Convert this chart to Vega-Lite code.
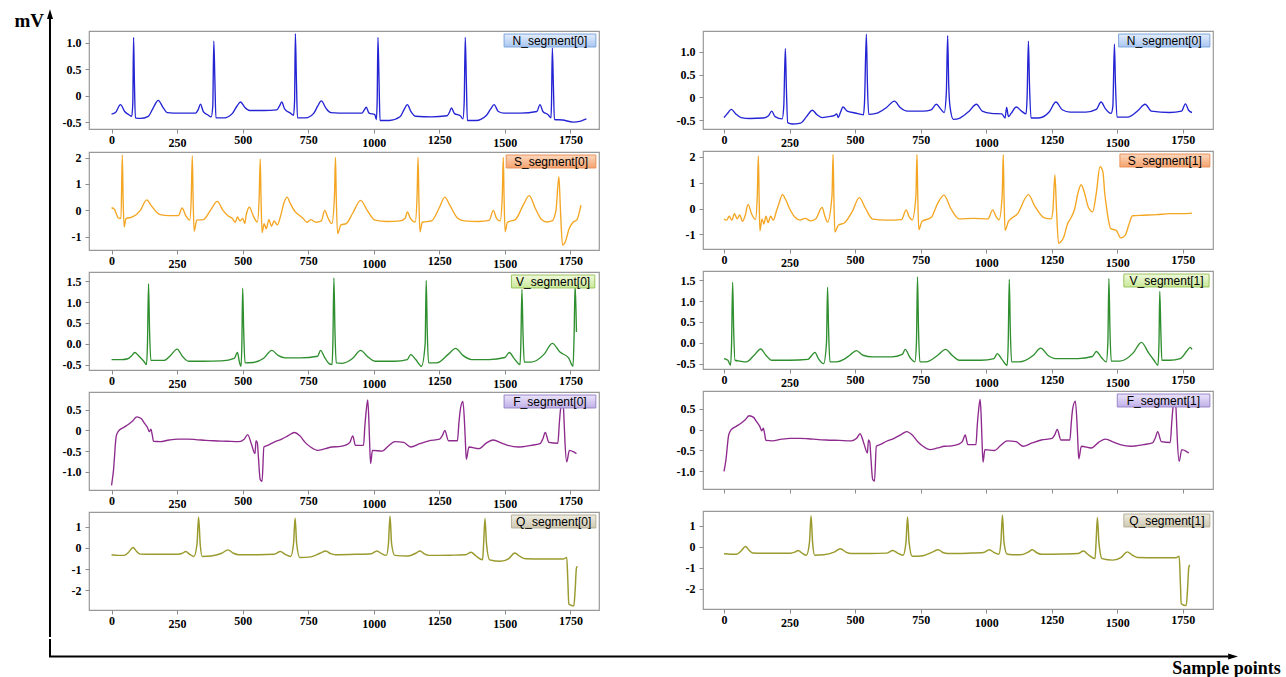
{
  "$schema": "https://vega.github.io/schema/vega-lite/v6.json",
  "padding": 0,
  "background": "white",
  "spacing": 0,
  "config": {
    "view": {"stroke": "#999999", "strokeWidth": 1.2},
    "axis": {"grid": false, "domain": false, "tickColor": "#8c8c8c", "tickSize": 4, "labelFont": "Liberation Serif", "labelFontWeight": "bold", "labelFontSize": 12, "labelColor": "#000"},
    "axisX": {"labelPadding": {"condition": {"test": "indexof([250, 1000, 1500], datum.value) >= 0", "value": 4}, "value": 1}, "minExtent": 20, "maxExtent": 20},
    "axisY": {"labelPadding": 4},
    "line": {"interpolate": "monotone", "strokeWidth": 1.35}
  },
  "datasets": {
    "N0": [{"t":0,"mv":-0.35},{"t":15,"mv":-0.32},{"t":34,"mv":-0.17},{"t":50,"mv":-0.3},{"t":66,"mv":-0.36},{"t":77,"mv":-0.39},{"t":81,"mv":-0.15},{"t":84,"mv":1.1},{"t":87,"mv":0.3},{"t":91,"mv":-0.42},{"t":110,"mv":-0.43},{"t":140,"mv":-0.39},{"t":160,"mv":-0.22},{"t":178,"mv":-0.09},{"t":196,"mv":-0.22},{"t":212,"mv":-0.32},{"t":260,"mv":-0.33},{"t":320,"mv":-0.33},{"t":330,"mv":-0.27},{"t":339,"mv":-0.16},{"t":350,"mv":-0.3},{"t":366,"mv":-0.36},{"t":380,"mv":-0.4},{"t":386,"mv":-0.2},{"t":390,"mv":1.03},{"t":394,"mv":0.3},{"t":398,"mv":-0.42},{"t":430,"mv":-0.42},{"t":460,"mv":-0.34},{"t":478,"mv":-0.2},{"t":492,"mv":-0.12},{"t":508,"mv":-0.22},{"t":526,"mv":-0.28},{"t":580,"mv":-0.28},{"t":630,"mv":-0.27},{"t":640,"mv":-0.2},{"t":649,"mv":-0.12},{"t":660,"mv":-0.25},{"t":682,"mv":-0.33},{"t":694,"mv":-0.37},{"t":698,"mv":-0.1},{"t":701,"mv":1.17},{"t":705,"mv":0.3},{"t":709,"mv":-0.42},{"t":740,"mv":-0.42},{"t":770,"mv":-0.34},{"t":786,"mv":-0.2},{"t":800,"mv":-0.1},{"t":818,"mv":-0.24},{"t":836,"mv":-0.32},{"t":900,"mv":-0.33},{"t":955,"mv":-0.33},{"t":964,"mv":-0.27},{"t":971,"mv":-0.22},{"t":982,"mv":-0.33},{"t":1004,"mv":-0.36},{"t":1010,"mv":-0.45},{"t":1013,"mv":-0.1},{"t":1016,"mv":1.1},{"t":1020,"mv":0.3},{"t":1024,"mv":-0.47},{"t":1060,"mv":-0.47},{"t":1100,"mv":-0.4},{"t":1116,"mv":-0.26},{"t":1128,"mv":-0.17},{"t":1142,"mv":-0.3},{"t":1160,"mv":-0.39},{"t":1220,"mv":-0.4},{"t":1280,"mv":-0.38},{"t":1290,"mv":-0.3},{"t":1296,"mv":-0.23},{"t":1308,"mv":-0.34},{"t":1330,"mv":-0.38},{"t":1340,"mv":-0.44},{"t":1345,"mv":-0.1},{"t":1349,"mv":1.1},{"t":1353,"mv":0.3},{"t":1357,"mv":-0.47},{"t":1390,"mv":-0.47},{"t":1430,"mv":-0.37},{"t":1446,"mv":-0.25},{"t":1459,"mv":-0.17},{"t":1475,"mv":-0.3},{"t":1497,"mv":-0.33},{"t":1560,"mv":-0.33},{"t":1622,"mv":-0.3},{"t":1634,"mv":-0.17},{"t":1645,"mv":-0.3},{"t":1665,"mv":-0.36},{"t":1676,"mv":-0.42},{"t":1678,"mv":-0.1},{"t":1681,"mv":0.9},{"t":1685,"mv":0.2},{"t":1689,"mv":-0.45},{"t":1720,"mv":-0.46},{"t":1760,"mv":-0.5},{"t":1790,"mv":-0.48},{"t":1811,"mv":-0.44}],
    "N1": [{"t":0,"mv":-0.44},{"t":12,"mv":-0.36},{"t":28,"mv":-0.26},{"t":45,"mv":-0.36},{"t":65,"mv":-0.44},{"t":100,"mv":-0.46},{"t":150,"mv":-0.45},{"t":170,"mv":-0.4},{"t":182,"mv":-0.3},{"t":195,"mv":-0.42},{"t":222,"mv":-0.47},{"t":228,"mv":-0.2},{"t":234,"mv":1.07},{"t":238,"mv":0.2},{"t":243,"mv":-0.55},{"t":260,"mv":-0.58},{"t":292,"mv":-0.56},{"t":315,"mv":-0.42},{"t":337,"mv":-0.28},{"t":355,"mv":-0.38},{"t":374,"mv":-0.44},{"t":400,"mv":-0.42},{"t":420,"mv":-0.4},{"t":430,"mv":-0.36},{"t":436,"mv":-0.44},{"t":444,"mv":-0.33},{"t":454,"mv":-0.21},{"t":470,"mv":-0.3},{"t":500,"mv":-0.34},{"t":532,"mv":-0.38},{"t":536,"mv":-0.1},{"t":543,"mv":1.38},{"t":547,"mv":0.3},{"t":552,"mv":-0.37},{"t":580,"mv":-0.35},{"t":620,"mv":-0.22},{"t":650,"mv":-0.08},{"t":672,"mv":-0.22},{"t":700,"mv":-0.3},{"t":760,"mv":-0.3},{"t":790,"mv":-0.27},{"t":810,"mv":-0.15},{"t":826,"mv":-0.25},{"t":840,"mv":-0.33},{"t":848,"mv":0.1},{"t":853,"mv":1.35},{"t":857,"mv":0.3},{"t":862,"mv":-0.2},{"t":875,"mv":-0.48},{"t":900,"mv":-0.45},{"t":935,"mv":-0.3},{"t":963,"mv":-0.15},{"t":985,"mv":-0.3},{"t":1020,"mv":-0.35},{"t":1060,"mv":-0.36},{"t":1072,"mv":-0.45},{"t":1078,"mv":-0.22},{"t":1085,"mv":-0.42},{"t":1095,"mv":-0.35},{"t":1115,"mv":-0.21},{"t":1135,"mv":-0.3},{"t":1152,"mv":-0.36},{"t":1156,"mv":0.0},{"t":1161,"mv":1.23},{"t":1165,"mv":0.3},{"t":1171,"mv":-0.45},{"t":1200,"mv":-0.45},{"t":1240,"mv":-0.32},{"t":1266,"mv":-0.1},{"t":1290,"mv":-0.27},{"t":1320,"mv":-0.32},{"t":1380,"mv":-0.32},{"t":1420,"mv":-0.26},{"t":1438,"mv":-0.1},{"t":1455,"mv":-0.25},{"t":1476,"mv":-0.35},{"t":1483,"mv":-0.2},{"t":1489,"mv":1.16},{"t":1493,"mv":0.3},{"t":1499,"mv":-0.43},{"t":1540,"mv":-0.43},{"t":1580,"mv":-0.28},{"t":1606,"mv":-0.15},{"t":1630,"mv":-0.3},{"t":1700,"mv":-0.33},{"t":1745,"mv":-0.3},{"t":1760,"mv":-0.14},{"t":1772,"mv":-0.28},{"t":1785,"mv":-0.33}],
    "S0": [{"t":0,"mv":0.1},{"t":10,"mv":0.05},{"t":27,"mv":-0.29},{"t":36,"mv":-0.3},{"t":41,"mv":2.09},{"t":44,"mv":0.5},{"t":48,"mv":-0.63},{"t":55,"mv":-0.31},{"t":80,"mv":-0.25},{"t":110,"mv":0.0},{"t":134,"mv":0.4},{"t":150,"mv":0.2},{"t":170,"mv":-0.05},{"t":185,"mv":-0.16},{"t":220,"mv":-0.2},{"t":255,"mv":-0.2},{"t":269,"mv":0.09},{"t":283,"mv":-0.2},{"t":298,"mv":-0.37},{"t":304,"mv":0.5},{"t":308,"mv":2.06},{"t":311,"mv":0.5},{"t":315,"mv":-0.79},{"t":325,"mv":-0.37},{"t":350,"mv":-0.35},{"t":380,"mv":0.05},{"t":403,"mv":0.34},{"t":425,"mv":0.0},{"t":444,"mv":-0.2},{"t":460,"mv":-0.3},{"t":472,"mv":-0.45},{"t":480,"mv":-0.25},{"t":490,"mv":-0.4},{"t":500,"mv":-0.3},{"t":508,"mv":-0.5},{"t":513,"mv":-0.2},{"t":526,"mv":0.12},{"t":540,"mv":-0.2},{"t":556,"mv":-0.44},{"t":563,"mv":0.5},{"t":567,"mv":1.94},{"t":570,"mv":0.5},{"t":574,"mv":-0.84},{"t":582,"mv":-0.5},{"t":590,"mv":-0.7},{"t":600,"mv":-0.35},{"t":610,"mv":-0.6},{"t":620,"mv":-0.4},{"t":632,"mv":-0.55},{"t":645,"mv":-0.2},{"t":658,"mv":0.3},{"t":670,"mv":0.5},{"t":680,"mv":0.3},{"t":700,"mv":-0.05},{"t":718,"mv":-0.2},{"t":731,"mv":-0.31},{"t":745,"mv":-0.45},{"t":760,"mv":-0.35},{"t":780,"mv":-0.45},{"t":800,"mv":-0.4},{"t":813,"mv":0.0},{"t":826,"mv":-0.3},{"t":840,"mv":-0.5},{"t":850,"mv":0.5},{"t":854,"mv":2.0},{"t":857,"mv":0.5},{"t":862,"mv":-0.88},{"t":875,"mv":-0.55},{"t":895,"mv":-0.5},{"t":920,"mv":-0.1},{"t":950,"mv":0.38},{"t":975,"mv":0.0},{"t":1005,"mv":-0.37},{"t":1050,"mv":-0.42},{"t":1100,"mv":-0.4},{"t":1120,"mv":-0.3},{"t":1128,"mv":-0.06},{"t":1140,"mv":-0.3},{"t":1158,"mv":-0.44},{"t":1165,"mv":0.5},{"t":1169,"mv":2.0},{"t":1172,"mv":0.5},{"t":1176,"mv":-0.81},{"t":1185,"mv":-0.45},{"t":1220,"mv":-0.4},{"t":1250,"mv":0.1},{"t":1271,"mv":0.5},{"t":1290,"mv":0.2},{"t":1320,"mv":-0.3},{"t":1346,"mv":-0.4},{"t":1400,"mv":-0.42},{"t":1440,"mv":-0.38},{"t":1456,"mv":0.0},{"t":1468,"mv":-0.3},{"t":1482,"mv":-0.4},{"t":1490,"mv":0.5},{"t":1494,"mv":2.0},{"t":1497,"mv":0.5},{"t":1501,"mv":-0.81},{"t":1510,"mv":-0.45},{"t":1540,"mv":-0.35},{"t":1570,"mv":0.2},{"t":1593,"mv":0.56},{"t":1615,"mv":0.1},{"t":1640,"mv":-0.35},{"t":1660,"mv":-0.44},{"t":1680,"mv":-0.4},{"t":1695,"mv":0.0},{"t":1706,"mv":1.28},{"t":1712,"mv":0.0},{"t":1720,"mv":-1.31},{"t":1730,"mv":-1.2},{"t":1745,"mv":-0.7},{"t":1760,"mv":-0.45},{"t":1775,"mv":-0.35},{"t":1790,"mv":0.2}],
    "S1": [{"t":0,"mv":-0.41},{"t":10,"mv":-0.45},{"t":20,"mv":-0.3},{"t":30,"mv":-0.45},{"t":40,"mv":-0.2},{"t":50,"mv":-0.4},{"t":60,"mv":-0.25},{"t":70,"mv":-0.5},{"t":80,"mv":-0.3},{"t":92,"mv":0.16},{"t":105,"mv":-0.2},{"t":120,"mv":-0.42},{"t":127,"mv":0.5},{"t":131,"mv":2.04},{"t":134,"mv":0.5},{"t":137,"mv":-0.87},{"t":145,"mv":-0.4},{"t":152,"mv":-0.6},{"t":160,"mv":-0.3},{"t":168,"mv":-0.55},{"t":178,"mv":-0.3},{"t":188,"mv":-0.45},{"t":200,"mv":-0.1},{"t":210,"mv":0.2},{"t":223,"mv":0.54},{"t":235,"mv":0.35},{"t":250,"mv":0.0},{"t":271,"mv":-0.34},{"t":290,"mv":-0.45},{"t":310,"mv":-0.38},{"t":330,"mv":-0.48},{"t":350,"mv":-0.4},{"t":374,"mv":0.04},{"t":385,"mv":-0.3},{"t":395,"mv":-0.53},{"t":412,"mv":0.5},{"t":416,"mv":2.09},{"t":419,"mv":0.5},{"t":423,"mv":-0.91},{"t":436,"mv":-0.65},{"t":460,"mv":-0.55},{"t":490,"mv":-0.1},{"t":516,"mv":0.42},{"t":540,"mv":0.0},{"t":567,"mv":-0.41},{"t":620,"mv":-0.45},{"t":677,"mv":-0.43},{"t":695,"mv":-0.05},{"t":705,"mv":-0.3},{"t":718,"mv":-0.44},{"t":732,"mv":0.5},{"t":736,"mv":2.09},{"t":739,"mv":0.5},{"t":743,"mv":-0.82},{"t":755,"mv":-0.5},{"t":790,"mv":-0.35},{"t":815,"mv":0.2},{"t":839,"mv":0.52},{"t":865,"mv":0.0},{"t":897,"mv":-0.4},{"t":950,"mv":-0.38},{"t":1007,"mv":-0.4},{"t":1025,"mv":-0.05},{"t":1037,"mv":-0.3},{"t":1049,"mv":-0.44},{"t":1061,"mv":0.5},{"t":1065,"mv":2.09},{"t":1068,"mv":0.5},{"t":1072,"mv":-0.85},{"t":1085,"mv":-0.5},{"t":1120,"mv":-0.2},{"t":1161,"mv":0.54},{"t":1185,"mv":0.1},{"t":1220,"mv":-0.35},{"t":1248,"mv":-0.4},{"t":1255,"mv":0.0},{"t":1262,"mv":1.3},{"t":1268,"mv":0.0},{"t":1276,"mv":-1.35},{"t":1284,"mv":-1.3},{"t":1296,"mv":-1.1},{"t":1310,"mv":-0.6},{"t":1324,"mv":-0.35},{"t":1337,"mv":-0.03},{"t":1350,"mv":0.6},{"t":1362,"mv":0.92},{"t":1375,"mv":0.6},{"t":1390,"mv":0.04},{"t":1406,"mv":-0.13},{"t":1420,"mv":0.6},{"t":1434,"mv":1.62},{"t":1445,"mv":1.43},{"t":1452,"mv":0.6},{"t":1459,"mv":0.04},{"t":1475,"mv":-0.78},{"t":1496,"mv":-0.85},{"t":1513,"mv":-1.14},{"t":1530,"mv":-1.04},{"t":1545,"mv":-0.6},{"t":1558,"mv":-0.28},{"t":1600,"mv":-0.26},{"t":1650,"mv":-0.24},{"t":1700,"mv":-0.2},{"t":1750,"mv":-0.2},{"t":1785,"mv":-0.18}],
    "V0": [{"t":0,"mv":-0.38},{"t":40,"mv":-0.38},{"t":62,"mv":-0.36},{"t":75,"mv":-0.3},{"t":89,"mv":-0.21},{"t":105,"mv":-0.3},{"t":123,"mv":-0.42},{"t":133,"mv":-0.5},{"t":137,"mv":0.0},{"t":141,"mv":1.44},{"t":145,"mv":0.3},{"t":150,"mv":-0.4},{"t":164,"mv":-0.4},{"t":200,"mv":-0.4},{"t":225,"mv":-0.28},{"t":250,"mv":-0.13},{"t":270,"mv":-0.3},{"t":294,"mv":-0.42},{"t":350,"mv":-0.42},{"t":420,"mv":-0.41},{"t":468,"mv":-0.35},{"t":480,"mv":-0.21},{"t":488,"mv":-0.45},{"t":494,"mv":-0.54},{"t":497,"mv":0.0},{"t":500,"mv":1.33},{"t":504,"mv":0.3},{"t":509,"mv":-0.46},{"t":540,"mv":-0.45},{"t":580,"mv":-0.35},{"t":611,"mv":-0.16},{"t":635,"mv":-0.28},{"t":663,"mv":-0.34},{"t":720,"mv":-0.34},{"t":786,"mv":-0.3},{"t":797,"mv":-0.16},{"t":812,"mv":-0.32},{"t":827,"mv":-0.46},{"t":841,"mv":-0.5},{"t":844,"mv":0.0},{"t":848,"mv":1.58},{"t":852,"mv":0.3},{"t":857,"mv":-0.46},{"t":880,"mv":-0.47},{"t":920,"mv":-0.35},{"t":950,"mv":-0.16},{"t":975,"mv":-0.3},{"t":1005,"mv":-0.42},{"t":1080,"mv":-0.42},{"t":1128,"mv":-0.38},{"t":1141,"mv":-0.26},{"t":1160,"mv":-0.38},{"t":1182,"mv":-0.54},{"t":1196,"mv":0.0},{"t":1200,"mv":1.52},{"t":1204,"mv":0.3},{"t":1209,"mv":-0.46},{"t":1240,"mv":-0.46},{"t":1285,"mv":-0.25},{"t":1312,"mv":-0.11},{"t":1340,"mv":-0.28},{"t":1374,"mv":-0.38},{"t":1440,"mv":-0.38},{"t":1500,"mv":-0.33},{"t":1517,"mv":-0.21},{"t":1535,"mv":-0.35},{"t":1558,"mv":-0.5},{"t":1561,"mv":0.0},{"t":1565,"mv":1.3},{"t":1569,"mv":0.3},{"t":1574,"mv":-0.44},{"t":1600,"mv":-0.44},{"t":1650,"mv":-0.25},{"t":1681,"mv":0.01},{"t":1710,"mv":-0.2},{"t":1743,"mv":-0.34},{"t":1760,"mv":-0.54},{"t":1764,"mv":0.2},{"t":1768,"mv":1.42},{"t":1773,"mv":0.28}],
    "V1": [{"t":0,"mv":-0.38},{"t":15,"mv":-0.42},{"t":25,"mv":-0.54},{"t":29,"mv":0.0},{"t":33,"mv":1.45},{"t":37,"mv":0.3},{"t":42,"mv":-0.42},{"t":60,"mv":-0.44},{"t":85,"mv":-0.46},{"t":115,"mv":-0.3},{"t":140,"mv":-0.15},{"t":160,"mv":-0.3},{"t":182,"mv":-0.42},{"t":250,"mv":-0.42},{"t":320,"mv":-0.4},{"t":335,"mv":-0.3},{"t":347,"mv":-0.23},{"t":360,"mv":-0.38},{"t":380,"mv":-0.5},{"t":391,"mv":0.0},{"t":395,"mv":1.33},{"t":399,"mv":0.3},{"t":404,"mv":-0.46},{"t":430,"mv":-0.46},{"t":457,"mv":-0.4},{"t":480,"mv":-0.3},{"t":505,"mv":-0.19},{"t":530,"mv":-0.3},{"t":567,"mv":-0.34},{"t":640,"mv":-0.34},{"t":680,"mv":-0.28},{"t":691,"mv":-0.16},{"t":710,"mv":-0.36},{"t":728,"mv":-0.46},{"t":734,"mv":0.0},{"t":738,"mv":1.58},{"t":742,"mv":0.3},{"t":747,"mv":-0.46},{"t":770,"mv":-0.46},{"t":815,"mv":-0.3},{"t":845,"mv":-0.16},{"t":870,"mv":-0.3},{"t":897,"mv":-0.42},{"t":980,"mv":-0.42},{"t":1030,"mv":-0.38},{"t":1042,"mv":-0.26},{"t":1060,"mv":-0.4},{"t":1080,"mv":-0.54},{"t":1084,"mv":0.0},{"t":1088,"mv":1.52},{"t":1092,"mv":0.3},{"t":1097,"mv":-0.46},{"t":1125,"mv":-0.46},{"t":1180,"mv":-0.3},{"t":1208,"mv":-0.13},{"t":1235,"mv":-0.3},{"t":1265,"mv":-0.38},{"t":1350,"mv":-0.38},{"t":1405,"mv":-0.33},{"t":1420,"mv":-0.21},{"t":1440,"mv":-0.36},{"t":1458,"mv":-0.46},{"t":1464,"mv":0.0},{"t":1468,"mv":1.54},{"t":1472,"mv":0.3},{"t":1477,"mv":-0.44},{"t":1510,"mv":-0.44},{"t":1560,"mv":-0.25},{"t":1592,"mv":0.01},{"t":1620,"mv":-0.25},{"t":1640,"mv":-0.42},{"t":1655,"mv":-0.54},{"t":1659,"mv":0.0},{"t":1662,"mv":1.23},{"t":1666,"mv":0.3},{"t":1670,"mv":-0.42},{"t":1700,"mv":-0.42},{"t":1740,"mv":-0.38},{"t":1765,"mv":-0.2},{"t":1778,"mv":-0.11},{"t":1785,"mv":-0.16}],
    "F0": [{"t":0,"mv":-1.33},{"t":7,"mv":-0.99},{"t":18,"mv":-0.13},{"t":27,"mv":-0.01},{"t":48,"mv":0.08},{"t":65,"mv":0.15},{"t":82,"mv":0.24},{"t":96,"mv":0.33},{"t":113,"mv":0.29},{"t":125,"mv":0.18},{"t":137,"mv":0.07},{"t":144,"mv":-0.03},{"t":150,"mv":0.03},{"t":155,"mv":-0.1},{"t":160,"mv":-0.26},{"t":185,"mv":-0.27},{"t":220,"mv":-0.23},{"t":253,"mv":-0.21},{"t":290,"mv":-0.21},{"t":321,"mv":-0.22},{"t":360,"mv":-0.24},{"t":390,"mv":-0.25},{"t":440,"mv":-0.26},{"t":485,"mv":-0.27},{"t":506,"mv":-0.21},{"t":519,"mv":-0.1},{"t":533,"mv":-0.32},{"t":547,"mv":-0.56},{"t":551,"mv":-0.25},{"t":556,"mv":-0.3},{"t":560,"mv":-0.64},{"t":567,"mv":-1.19},{"t":574,"mv":-1.23},{"t":581,"mv":-0.4},{"t":595,"mv":-0.36},{"t":620,"mv":-0.28},{"t":649,"mv":-0.21},{"t":675,"mv":-0.12},{"t":697,"mv":-0.05},{"t":718,"mv":-0.13},{"t":740,"mv":-0.3},{"t":759,"mv":-0.4},{"t":786,"mv":-0.48},{"t":815,"mv":-0.44},{"t":841,"mv":-0.4},{"t":868,"mv":-0.39},{"t":895,"mv":-0.35},{"t":909,"mv":-0.29},{"t":920,"mv":-0.13},{"t":930,"mv":-0.36},{"t":961,"mv":-0.36},{"t":966,"mv":0.1},{"t":971,"mv":0.46},{"t":977,"mv":0.74},{"t":981,"mv":0.3},{"t":984,"mv":-0.25},{"t":988,"mv":-0.8},{"t":995,"mv":-0.48},{"t":1032,"mv":-0.5},{"t":1055,"mv":-0.38},{"t":1080,"mv":-0.27},{"t":1114,"mv":-0.29},{"t":1141,"mv":-0.4},{"t":1175,"mv":-0.32},{"t":1210,"mv":-0.25},{"t":1251,"mv":-0.21},{"t":1262,"mv":-0.12},{"t":1271,"mv":0.0},{"t":1285,"mv":-0.25},{"t":1319,"mv":-0.25},{"t":1325,"mv":0.2},{"t":1330,"mv":0.5},{"t":1340,"mv":0.7},{"t":1346,"mv":0.2},{"t":1349,"mv":-0.21},{"t":1353,"mv":-0.7},{"t":1363,"mv":-0.4},{"t":1401,"mv":-0.44},{"t":1430,"mv":-0.3},{"t":1456,"mv":-0.23},{"t":1485,"mv":-0.3},{"t":1511,"mv":-0.36},{"t":1552,"mv":-0.4},{"t":1600,"mv":-0.36},{"t":1634,"mv":-0.32},{"t":1645,"mv":-0.2},{"t":1654,"mv":-0.05},{"t":1668,"mv":-0.29},{"t":1702,"mv":-0.31},{"t":1708,"mv":0.2},{"t":1713,"mv":0.54},{"t":1722,"mv":0.7},{"t":1726,"mv":0.2},{"t":1729,"mv":-0.25},{"t":1736,"mv":-0.76},{"t":1746,"mv":-0.48},{"t":1763,"mv":-0.52},{"t":1773,"mv":-0.56}],
    "F1": [{"t":0,"mv":-1.0},{"t":7,"mv":-0.75},{"t":18,"mv":-0.13},{"t":27,"mv":-0.01},{"t":48,"mv":0.08},{"t":65,"mv":0.15},{"t":82,"mv":0.24},{"t":96,"mv":0.33},{"t":113,"mv":0.29},{"t":125,"mv":0.18},{"t":137,"mv":0.07},{"t":144,"mv":-0.03},{"t":150,"mv":0.03},{"t":155,"mv":-0.1},{"t":160,"mv":-0.26},{"t":185,"mv":-0.27},{"t":220,"mv":-0.23},{"t":253,"mv":-0.21},{"t":290,"mv":-0.21},{"t":321,"mv":-0.22},{"t":360,"mv":-0.24},{"t":390,"mv":-0.25},{"t":440,"mv":-0.26},{"t":485,"mv":-0.27},{"t":506,"mv":-0.21},{"t":519,"mv":-0.1},{"t":533,"mv":-0.32},{"t":547,"mv":-0.56},{"t":551,"mv":-0.25},{"t":556,"mv":-0.3},{"t":560,"mv":-0.64},{"t":567,"mv":-1.19},{"t":574,"mv":-1.23},{"t":581,"mv":-0.4},{"t":595,"mv":-0.36},{"t":620,"mv":-0.28},{"t":649,"mv":-0.21},{"t":675,"mv":-0.12},{"t":697,"mv":-0.05},{"t":718,"mv":-0.13},{"t":740,"mv":-0.3},{"t":759,"mv":-0.4},{"t":786,"mv":-0.48},{"t":815,"mv":-0.44},{"t":841,"mv":-0.4},{"t":868,"mv":-0.39},{"t":895,"mv":-0.35},{"t":909,"mv":-0.29},{"t":920,"mv":-0.13},{"t":930,"mv":-0.36},{"t":961,"mv":-0.36},{"t":966,"mv":0.1},{"t":971,"mv":0.46},{"t":977,"mv":0.72},{"t":981,"mv":0.3},{"t":984,"mv":-0.25},{"t":988,"mv":-0.78},{"t":995,"mv":-0.48},{"t":1032,"mv":-0.5},{"t":1055,"mv":-0.38},{"t":1080,"mv":-0.27},{"t":1114,"mv":-0.29},{"t":1141,"mv":-0.4},{"t":1175,"mv":-0.32},{"t":1210,"mv":-0.25},{"t":1251,"mv":-0.21},{"t":1262,"mv":-0.12},{"t":1271,"mv":0.0},{"t":1285,"mv":-0.25},{"t":1319,"mv":-0.25},{"t":1325,"mv":0.2},{"t":1330,"mv":0.5},{"t":1340,"mv":0.68},{"t":1346,"mv":0.2},{"t":1349,"mv":-0.21},{"t":1353,"mv":-0.7},{"t":1363,"mv":-0.4},{"t":1401,"mv":-0.44},{"t":1430,"mv":-0.3},{"t":1456,"mv":-0.23},{"t":1485,"mv":-0.3},{"t":1511,"mv":-0.36},{"t":1552,"mv":-0.4},{"t":1600,"mv":-0.36},{"t":1634,"mv":-0.32},{"t":1645,"mv":-0.2},{"t":1654,"mv":-0.05},{"t":1668,"mv":-0.29},{"t":1702,"mv":-0.31},{"t":1708,"mv":0.2},{"t":1713,"mv":0.54},{"t":1722,"mv":0.68},{"t":1726,"mv":0.2},{"t":1729,"mv":-0.25},{"t":1736,"mv":-0.76},{"t":1746,"mv":-0.48},{"t":1763,"mv":-0.52},{"t":1773,"mv":-0.56}],
    "Q0": [{"t":0,"mv":-0.32},{"t":25,"mv":-0.35},{"t":48,"mv":-0.35},{"t":65,"mv":-0.2},{"t":82,"mv":0.02},{"t":95,"mv":-0.15},{"t":109,"mv":-0.29},{"t":150,"mv":-0.3},{"t":200,"mv":-0.3},{"t":253,"mv":-0.3},{"t":270,"mv":-0.25},{"t":283,"mv":-0.17},{"t":298,"mv":-0.3},{"t":314,"mv":-0.4},{"t":326,"mv":0.2},{"t":332,"mv":1.47},{"t":338,"mv":0.2},{"t":346,"mv":-0.4},{"t":380,"mv":-0.38},{"t":420,"mv":-0.25},{"t":444,"mv":-0.09},{"t":465,"mv":-0.25},{"t":485,"mv":-0.32},{"t":560,"mv":-0.32},{"t":620,"mv":-0.3},{"t":644,"mv":-0.17},{"t":662,"mv":-0.3},{"t":683,"mv":-0.4},{"t":694,"mv":0.2},{"t":700,"mv":1.42},{"t":706,"mv":0.2},{"t":718,"mv":-0.45},{"t":760,"mv":-0.42},{"t":795,"mv":-0.25},{"t":817,"mv":-0.14},{"t":835,"mv":-0.27},{"t":854,"mv":-0.32},{"t":930,"mv":-0.3},{"t":990,"mv":-0.27},{"t":1012,"mv":-0.14},{"t":1030,"mv":-0.27},{"t":1048,"mv":-0.35},{"t":1056,"mv":0.2},{"t":1062,"mv":1.51},{"t":1068,"mv":0.2},{"t":1080,"mv":-0.35},{"t":1130,"mv":-0.38},{"t":1160,"mv":-0.25},{"t":1176,"mv":-0.14},{"t":1193,"mv":-0.28},{"t":1210,"mv":-0.35},{"t":1290,"mv":-0.34},{"t":1350,"mv":-0.32},{"t":1371,"mv":-0.2},{"t":1390,"mv":-0.38},{"t":1415,"mv":-0.56},{"t":1419,"mv":0.2},{"t":1424,"mv":1.39},{"t":1430,"mv":0.2},{"t":1442,"mv":-0.56},{"t":1483,"mv":-0.63},{"t":1515,"mv":-0.5},{"t":1538,"mv":-0.24},{"t":1558,"mv":-0.4},{"t":1579,"mv":-0.51},{"t":1650,"mv":-0.52},{"t":1722,"mv":-0.52},{"t":1736,"mv":-0.45},{"t":1740,"mv":-1.5},{"t":1744,"mv":-2.65},{"t":1755,"mv":-2.72},{"t":1763,"mv":-2.73},{"t":1768,"mv":-2.0},{"t":1773,"mv":-0.94},{"t":1777,"mv":-0.87}],
    "Q1": [{"t":0,"mv":-0.33},{"t":25,"mv":-0.35},{"t":48,"mv":-0.35},{"t":65,"mv":-0.2},{"t":82,"mv":0.02},{"t":95,"mv":-0.15},{"t":109,"mv":-0.29},{"t":150,"mv":-0.3},{"t":200,"mv":-0.3},{"t":253,"mv":-0.3},{"t":270,"mv":-0.25},{"t":283,"mv":-0.17},{"t":298,"mv":-0.3},{"t":314,"mv":-0.4},{"t":326,"mv":0.2},{"t":332,"mv":1.47},{"t":338,"mv":0.2},{"t":346,"mv":-0.4},{"t":380,"mv":-0.38},{"t":420,"mv":-0.25},{"t":444,"mv":-0.09},{"t":465,"mv":-0.25},{"t":485,"mv":-0.32},{"t":560,"mv":-0.32},{"t":620,"mv":-0.3},{"t":644,"mv":-0.17},{"t":662,"mv":-0.3},{"t":683,"mv":-0.4},{"t":694,"mv":0.2},{"t":700,"mv":1.42},{"t":706,"mv":0.2},{"t":718,"mv":-0.45},{"t":760,"mv":-0.42},{"t":795,"mv":-0.25},{"t":817,"mv":-0.14},{"t":835,"mv":-0.27},{"t":854,"mv":-0.32},{"t":930,"mv":-0.3},{"t":990,"mv":-0.27},{"t":1012,"mv":-0.14},{"t":1030,"mv":-0.27},{"t":1048,"mv":-0.35},{"t":1056,"mv":0.2},{"t":1062,"mv":1.51},{"t":1068,"mv":0.2},{"t":1080,"mv":-0.35},{"t":1130,"mv":-0.38},{"t":1160,"mv":-0.25},{"t":1176,"mv":-0.14},{"t":1193,"mv":-0.28},{"t":1210,"mv":-0.35},{"t":1290,"mv":-0.34},{"t":1350,"mv":-0.32},{"t":1371,"mv":-0.2},{"t":1390,"mv":-0.38},{"t":1415,"mv":-0.56},{"t":1419,"mv":0.2},{"t":1424,"mv":1.39},{"t":1430,"mv":0.2},{"t":1442,"mv":-0.56},{"t":1483,"mv":-0.63},{"t":1515,"mv":-0.5},{"t":1538,"mv":-0.24},{"t":1558,"mv":-0.4},{"t":1579,"mv":-0.51},{"t":1650,"mv":-0.52},{"t":1722,"mv":-0.52},{"t":1736,"mv":-0.45},{"t":1740,"mv":-1.5},{"t":1744,"mv":-2.7},{"t":1755,"mv":-2.77},{"t":1763,"mv":-2.78},{"t":1768,"mv":-2.0},{"t":1773,"mv":-0.94},{"t":1777,"mv":-0.87}]
  },
  "vconcat": [
    {
      "spacing": 0,
      "hconcat": [
        {
          "width": 55, "height": 637, "view": {"stroke": null},
          "data": {"values": [{}]},
          "layer": [
            {"mark": {"type": "rule", "color": "#000", "strokeWidth": 2},
             "encoding": {"x": {"datum": 0.909, "type": "quantitative", "scale": {"domain": [0, 1], "nice": false}, "axis": null},
                          "y": {"datum": 0, "type": "quantitative", "scale": {"domain": [0, 1], "nice": false}, "axis": null},
                          "y2": {"datum": 0.975}}},
            {"mark": {"type": "point", "shape": "M0,-1L0.55,0.8L-0.55,0.8Z", "filled": true, "color": "#000", "opacity": 1, "size": 120},
             "encoding": {"x": {"datum": 0.909, "type": "quantitative"}, "y": {"datum": 0.977, "type": "quantitative"}}},
            {"mark": {"type": "text", "text": "mV", "font": "Liberation Serif", "fontWeight": "bold", "fontSize": 19, "align": "right", "baseline": "middle", "color": "#000"},
             "encoding": {"x": {"datum": 0.8, "type": "quantitative"}, "y": {"datum": 0.967, "type": "quantitative"}}}
          ]
        },
        {
          "spacing": 0,
          "vconcat": [
            {"width": 510, "height": 30, "view": {"stroke": null}, "data": {"values": []}, "mark": "point"},
            {"width": 510, "height": 98, "resolve": {"scale": {"y": "independent"}}, "layer": [
              {"data": {"name": "N0"}, "mark": {"type": "line", "color": "#2424d4"},
               "encoding": {"x": {"field": "t", "type": "quantitative", "scale": {"domain": [-86, 1859], "nice": false, "zero": false}, "axis": {"title": null, "values": [0,250,500,750,1000,1250,1500,1750], "format": "d"}},
                            "y": {"field": "mv", "type": "quantitative", "scale": {"domain": [-0.63, 1.22], "nice": false, "zero": false}, "axis": {"title": null, "values": [-0.5,0,0.5,1], "minExtent": 33, "maxExtent": 33, "labelExpr": "datum.value == 0 ? '0' : (datum.value < 0 ? '-' : '') + format(abs(datum.value), '.1f')"}}}},
              {"data": {"values": [{}]}, "mark": {"type": "rect", "stroke": "#7ea6dc", "strokeWidth": 1, "fill": {"gradient": "linear", "x1": 0, "y1": 0, "x2": 0, "y2": 1, "stops": [{"offset": 0, "color": "#e3edfc"}, {"offset": 1, "color": "#a9c6f1"}]}},
               "encoding": {"x": {"datum": 1497, "type": "quantitative"}, "x2": {"datum": 1847}, "y": {"datum": 0.969, "type": "quantitative", "scale": {"domain": [0, 1], "nice": false}, "axis": null}, "y2": {"datum": 0.837}}},
              {"data": {"values": [{}]}, "mark": {"type": "text", "text": "N_segment[0]", "font": "Liberation Sans", "fontSize": 12, "color": "#000", "baseline": "middle"},
               "encoding": {"x": {"datum": 1672, "type": "quantitative"}, "y": {"datum": 0.903, "type": "quantitative", "scale": {"domain": [0, 1], "nice": false}, "axis": null}}}
            ]},
            {"width": 510, "height": 98, "resolve": {"scale": {"y": "independent"}}, "layer": [
              {"data": {"name": "S0"}, "mark": {"type": "line", "color": "#f4a623"},
               "encoding": {"x": {"field": "t", "type": "quantitative", "scale": {"domain": [-86, 1859], "nice": false, "zero": false}, "axis": {"title": null, "values": [0,250,500,750,1000,1250,1500,1750], "format": "d"}},
                            "y": {"field": "mv", "type": "quantitative", "scale": {"domain": [-1.5, 2.21], "nice": false, "zero": false}, "axis": {"title": null, "values": [-1,0,1,2], "minExtent": 33, "maxExtent": 33, "labelExpr": "(datum.value < 0 ? '-' : '') + format(abs(datum.value), 'd')"}}}},
              {"data": {"values": [{}]}, "mark": {"type": "rect", "stroke": "#e8915a", "strokeWidth": 1, "fill": {"gradient": "linear", "x1": 0, "y1": 0, "x2": 0, "y2": 1, "stops": [{"offset": 0, "color": "#fcd8bd"}, {"offset": 1, "color": "#f6a26e"}]}},
               "encoding": {"x": {"datum": 1505, "type": "quantitative"}, "x2": {"datum": 1847}, "y": {"datum": 0.969, "type": "quantitative", "scale": {"domain": [0, 1], "nice": false}, "axis": null}, "y2": {"datum": 0.837}}},
              {"data": {"values": [{}]}, "mark": {"type": "text", "text": "S_segment[0]", "font": "Liberation Sans", "fontSize": 12, "color": "#000", "baseline": "middle"},
               "encoding": {"x": {"datum": 1676, "type": "quantitative"}, "y": {"datum": 0.903, "type": "quantitative", "scale": {"domain": [0, 1], "nice": false}, "axis": null}}}
            ]},
            {"width": 510, "height": 98, "resolve": {"scale": {"y": "independent"}}, "layer": [
              {"data": {"name": "V0"}, "mark": {"type": "line", "color": "#2f8f2f"},
               "encoding": {"x": {"field": "t", "type": "quantitative", "scale": {"domain": [-86, 1859], "nice": false, "zero": false}, "axis": {"title": null, "values": [0,250,500,750,1000,1250,1500,1750], "format": "d"}},
                            "y": {"field": "mv", "type": "quantitative", "scale": {"domain": [-0.63, 1.72], "nice": false, "zero": false}, "axis": {"title": null, "values": [-0.5,0,0.5,1,1.5], "minExtent": 33, "maxExtent": 33, "labelExpr": "(datum.value < 0 ? '-' : '') + format(abs(datum.value), '.1f')"}}}},
              {"data": {"values": [{}]}, "mark": {"type": "rect", "stroke": "#9cc45e", "strokeWidth": 1, "fill": {"gradient": "linear", "x1": 0, "y1": 0, "x2": 0, "y2": 1, "stops": [{"offset": 0, "color": "#f0fadc"}, {"offset": 1, "color": "#c8e898"}]}},
               "encoding": {"x": {"datum": 1525, "type": "quantitative"}, "x2": {"datum": 1843}, "y": {"datum": 0.969, "type": "quantitative", "scale": {"domain": [0, 1], "nice": false}, "axis": null}, "y2": {"datum": 0.837}}},
              {"data": {"values": [{}]}, "mark": {"type": "text", "text": "V_segment[0]", "font": "Liberation Sans", "fontSize": 12, "color": "#000", "baseline": "middle"},
               "encoding": {"x": {"datum": 1684, "type": "quantitative"}, "y": {"datum": 0.903, "type": "quantitative", "scale": {"domain": [0, 1], "nice": false}, "axis": null}}}
            ]},
            {"width": 510, "height": 98, "resolve": {"scale": {"y": "independent"}}, "layer": [
              {"data": {"name": "F0"}, "mark": {"type": "line", "color": "#8e2a8e"},
               "encoding": {"x": {"field": "t", "type": "quantitative", "scale": {"domain": [-86, 1859], "nice": false, "zero": false}, "axis": {"title": null, "values": [0,250,500,750,1000,1250,1500,1750], "format": "d"}},
                            "y": {"field": "mv", "type": "quantitative", "scale": {"domain": [-1.44, 0.93], "nice": false, "zero": false}, "axis": {"title": null, "values": [-1,-0.5,0,0.5], "minExtent": 33, "maxExtent": 33, "labelExpr": "datum.value == 0 ? '0' : (datum.value < 0 ? '-' : '') + format(abs(datum.value), '.1f')"}}}},
              {"data": {"values": [{}]}, "mark": {"type": "rect", "stroke": "#9a86c8", "strokeWidth": 1, "fill": {"gradient": "linear", "x1": 0, "y1": 0, "x2": 0, "y2": 1, "stops": [{"offset": 0, "color": "#ebe4fa"}, {"offset": 1, "color": "#c0b0e8"}]}},
               "encoding": {"x": {"datum": 1497, "type": "quantitative"}, "x2": {"datum": 1847}, "y": {"datum": 0.969, "type": "quantitative", "scale": {"domain": [0, 1], "nice": false}, "axis": null}, "y2": {"datum": 0.837}}},
              {"data": {"values": [{}]}, "mark": {"type": "text", "text": "F_segment[0]", "font": "Liberation Sans", "fontSize": 12, "color": "#000", "baseline": "middle"},
               "encoding": {"x": {"datum": 1672, "type": "quantitative"}, "y": {"datum": 0.903, "type": "quantitative", "scale": {"domain": [0, 1], "nice": false}, "axis": null}}}
            ]},
            {"width": 510, "height": 98, "resolve": {"scale": {"y": "independent"}}, "layer": [
              {"data": {"name": "Q0"}, "mark": {"type": "line", "color": "#9a9a2e", "strokeWidth": 1.45},
               "encoding": {"x": {"field": "t", "type": "quantitative", "scale": {"domain": [-86, 1859], "nice": false, "zero": false}, "axis": {"title": null, "values": [0,250,500,750,1000,1250,1500,1750], "format": "d"}},
                            "y": {"field": "mv", "type": "quantitative", "scale": {"domain": [-2.93, 1.7], "nice": false, "zero": false}, "axis": {"title": null, "values": [-2,-1,0,1], "minExtent": 33, "maxExtent": 33, "labelExpr": "(datum.value < 0 ? '-' : '') + format(abs(datum.value), 'd')"}}}},
              {"data": {"values": [{}]}, "mark": {"type": "rect", "stroke": "#b8b098", "strokeWidth": 1, "fill": {"gradient": "linear", "x1": 0, "y1": 0, "x2": 0, "y2": 1, "stops": [{"offset": 0, "color": "#eeece2"}, {"offset": 1, "color": "#cfc9b2"}]}},
               "encoding": {"x": {"datum": 1525, "type": "quantitative"}, "x2": {"datum": 1847}, "y": {"datum": 0.969, "type": "quantitative", "scale": {"domain": [0, 1], "nice": false}, "axis": null}, "y2": {"datum": 0.837}}},
              {"data": {"values": [{}]}, "mark": {"type": "text", "text": "Q_segment[0]", "font": "Liberation Sans", "fontSize": 12, "color": "#000", "baseline": "middle"},
               "encoding": {"x": {"datum": 1686, "type": "quantitative"}, "y": {"datum": 0.903, "type": "quantitative", "scale": {"domain": [0, 1], "nice": false}, "axis": null}}}
            ]}
          ]
        },
        {
          "spacing": 0,
          "vconcat": [
            {"width": 510, "height": 30, "view": {"stroke": null}, "data": {"values": []}, "mark": "point"},
            {"width": 510, "height": 98, "resolve": {"scale": {"y": "independent"}}, "layer": [
              {"data": {"name": "N1"}, "mark": {"type": "line", "color": "#2424d4"},
               "encoding": {"x": {"field": "t", "type": "quantitative", "scale": {"domain": [-80, 1865], "nice": false, "zero": false}, "axis": {"title": null, "values": [0,250,500,750,1000,1250,1500,1750], "format": "d"}},
                            "y": {"field": "mv", "type": "quantitative", "scale": {"domain": [-0.69, 1.45], "nice": false, "zero": false}, "axis": {"title": null, "values": [-0.5,0,0.5,1], "minExtent": 102, "maxExtent": 102, "labelExpr": "datum.value == 0 ? '0' : (datum.value < 0 ? '-' : '') + format(abs(datum.value), '.1f')"}}}},
              {"data": {"values": [{}]}, "mark": {"type": "rect", "stroke": "#7ea6dc", "strokeWidth": 1, "fill": {"gradient": "linear", "x1": 0, "y1": 0, "x2": 0, "y2": 1, "stops": [{"offset": 0, "color": "#e3edfc"}, {"offset": 1, "color": "#a9c6f1"}]}},
               "encoding": {"x": {"datum": 1505, "type": "quantitative"}, "x2": {"datum": 1853}, "y": {"datum": 0.969, "type": "quantitative", "scale": {"domain": [0, 1], "nice": false}, "axis": null}, "y2": {"datum": 0.837}}},
              {"data": {"values": [{}]}, "mark": {"type": "text", "text": "N_segment[0]", "font": "Liberation Sans", "fontSize": 12, "color": "#000", "baseline": "middle"},
               "encoding": {"x": {"datum": 1679, "type": "quantitative"}, "y": {"datum": 0.903, "type": "quantitative", "scale": {"domain": [0, 1], "nice": false}, "axis": null}}}
            ]},
            {"width": 510, "height": 98, "resolve": {"scale": {"y": "independent"}}, "layer": [
              {"data": {"name": "S1"}, "mark": {"type": "line", "color": "#f4a623"},
               "encoding": {"x": {"field": "t", "type": "quantitative", "scale": {"domain": [-80, 1865], "nice": false, "zero": false}, "axis": {"title": null, "values": [0,250,500,750,1000,1250,1500,1750], "format": "d"}},
                            "y": {"field": "mv", "type": "quantitative", "scale": {"domain": [-1.57, 2.23], "nice": false, "zero": false}, "axis": {"title": null, "values": [-1,0,1,2], "minExtent": 102, "maxExtent": 102, "labelExpr": "(datum.value < 0 ? '-' : '') + format(abs(datum.value), 'd')"}}}},
              {"data": {"values": [{}]}, "mark": {"type": "rect", "stroke": "#e8915a", "strokeWidth": 1, "fill": {"gradient": "linear", "x1": 0, "y1": 0, "x2": 0, "y2": 1, "stops": [{"offset": 0, "color": "#fcd8bd"}, {"offset": 1, "color": "#f6a26e"}]}},
               "encoding": {"x": {"datum": 1510, "type": "quantitative"}, "x2": {"datum": 1853}, "y": {"datum": 0.969, "type": "quantitative", "scale": {"domain": [0, 1], "nice": false}, "axis": null}, "y2": {"datum": 0.837}}},
              {"data": {"values": [{}]}, "mark": {"type": "text", "text": "S_segment[1]", "font": "Liberation Sans", "fontSize": 12, "color": "#000", "baseline": "middle"},
               "encoding": {"x": {"datum": 1681, "type": "quantitative"}, "y": {"datum": 0.903, "type": "quantitative", "scale": {"domain": [0, 1], "nice": false}, "axis": null}}}
            ]},
            {"width": 510, "height": 98, "resolve": {"scale": {"y": "independent"}}, "layer": [
              {"data": {"name": "V1"}, "mark": {"type": "line", "color": "#2f8f2f"},
               "encoding": {"x": {"field": "t", "type": "quantitative", "scale": {"domain": [-80, 1865], "nice": false, "zero": false}, "axis": {"title": null, "values": [0,250,500,750,1000,1250,1500,1750], "format": "d"}},
                            "y": {"field": "mv", "type": "quantitative", "scale": {"domain": [-0.63, 1.72], "nice": false, "zero": false}, "axis": {"title": null, "values": [-0.5,0,0.5,1,1.5], "minExtent": 102, "maxExtent": 102, "labelExpr": "(datum.value < 0 ? '-' : '') + format(abs(datum.value), '.1f')"}}}},
              {"data": {"values": [{}]}, "mark": {"type": "rect", "stroke": "#9cc45e", "strokeWidth": 1, "fill": {"gradient": "linear", "x1": 0, "y1": 0, "x2": 0, "y2": 1, "stops": [{"offset": 0, "color": "#f0fadc"}, {"offset": 1, "color": "#c8e898"}]}},
               "encoding": {"x": {"datum": 1525, "type": "quantitative"}, "x2": {"datum": 1850}, "y": {"datum": 0.969, "type": "quantitative", "scale": {"domain": [0, 1], "nice": false}, "axis": null}, "y2": {"datum": 0.837}}},
              {"data": {"values": [{}]}, "mark": {"type": "text", "text": "V_segment[1]", "font": "Liberation Sans", "fontSize": 12, "color": "#000", "baseline": "middle"},
               "encoding": {"x": {"datum": 1688, "type": "quantitative"}, "y": {"datum": 0.903, "type": "quantitative", "scale": {"domain": [0, 1], "nice": false}, "axis": null}}}
            ]},
            {"width": 510, "height": 98, "resolve": {"scale": {"y": "independent"}}, "layer": [
              {"data": {"name": "F1"}, "mark": {"type": "line", "color": "#8e2a8e"},
               "encoding": {"x": {"field": "t", "type": "quantitative", "scale": {"domain": [-80, 1865], "nice": false, "zero": false}, "axis": {"title": null, "values": [0,250,500,750,1000,1250,1500,1750], "labels": false}},
                            "y": {"field": "mv", "type": "quantitative", "scale": {"domain": [-1.42, 0.92], "nice": false, "zero": false}, "axis": {"title": null, "values": [-1,-0.5,0,0.5], "minExtent": 102, "maxExtent": 102, "labelExpr": "datum.value == 0 ? '0' : (datum.value < 0 ? '-' : '') + format(abs(datum.value), '.1f')"}}}},
              {"data": {"values": [{}]}, "mark": {"type": "rect", "stroke": "#9a86c8", "strokeWidth": 1, "fill": {"gradient": "linear", "x1": 0, "y1": 0, "x2": 0, "y2": 1, "stops": [{"offset": 0, "color": "#ebe4fa"}, {"offset": 1, "color": "#c0b0e8"}]}},
               "encoding": {"x": {"datum": 1500, "type": "quantitative"}, "x2": {"datum": 1853}, "y": {"datum": 0.969, "type": "quantitative", "scale": {"domain": [0, 1], "nice": false}, "axis": null}, "y2": {"datum": 0.837}}},
              {"data": {"values": [{}]}, "mark": {"type": "text", "text": "F_segment[1]", "font": "Liberation Sans", "fontSize": 12, "color": "#000", "baseline": "middle"},
               "encoding": {"x": {"datum": 1676, "type": "quantitative"}, "y": {"datum": 0.903, "type": "quantitative", "scale": {"domain": [0, 1], "nice": false}, "axis": null}}}
            ]},
            {"width": 510, "height": 98, "resolve": {"scale": {"y": "independent"}}, "layer": [
              {"data": {"name": "Q1"}, "mark": {"type": "line", "color": "#9a9a2e", "strokeWidth": 1.45},
               "encoding": {"x": {"field": "t", "type": "quantitative", "scale": {"domain": [-80, 1865], "nice": false, "zero": false}, "axis": {"title": null, "values": [0,250,500,750,1000,1250,1500,1750], "format": "d"}},
                            "y": {"field": "mv", "type": "quantitative", "scale": {"domain": [-2.95, 1.7], "nice": false, "zero": false}, "axis": {"title": null, "values": [-2,-1,0,1], "minExtent": 102, "maxExtent": 102, "labelExpr": "(datum.value < 0 ? '-' : '') + format(abs(datum.value), 'd')"}}}},
              {"data": {"values": [{}]}, "mark": {"type": "rect", "stroke": "#b8b098", "strokeWidth": 1, "fill": {"gradient": "linear", "x1": 0, "y1": 0, "x2": 0, "y2": 1, "stops": [{"offset": 0, "color": "#eeece2"}, {"offset": 1, "color": "#cfc9b2"}]}},
               "encoding": {"x": {"datum": 1525, "type": "quantitative"}, "x2": {"datum": 1853}, "y": {"datum": 0.969, "type": "quantitative", "scale": {"domain": [0, 1], "nice": false}, "axis": null}, "y2": {"datum": 0.837}}},
              {"data": {"values": [{}]}, "mark": {"type": "text", "text": "Q_segment[1]", "font": "Liberation Sans", "fontSize": 12, "color": "#000", "baseline": "middle"},
               "encoding": {"x": {"datum": 1689, "type": "quantitative"}, "y": {"datum": 0.903, "type": "quantitative", "scale": {"domain": [0, 1], "nice": false}, "axis": null}}}
            ]}
          ]
        }
      ]
    },
    {
      "width": 1286, "height": 39, "view": {"stroke": null},
      "data": {"values": [{}]},
      "layer": [
        {"mark": {"type": "rule", "color": "#000", "strokeWidth": 2},
         "encoding": {"x": {"datum": 0.0389, "type": "quantitative", "scale": {"domain": [0, 1], "nice": false}, "axis": null},
                      "y": {"datum": 1, "type": "quantitative", "scale": {"domain": [0, 1], "nice": false}, "axis": null},
                      "y2": {"datum": 0.55}}},
        {"mark": {"type": "rule", "color": "#000", "strokeWidth": 2},
         "encoding": {"x": {"datum": 0.0381, "type": "quantitative"}, "x2": {"datum": 0.955}, "y": {"datum": 0.55, "type": "quantitative"}}},
        {"mark": {"type": "point", "shape": "M1,0L-0.8,-0.55L-0.8,0.55Z", "filled": true, "color": "#000", "opacity": 1, "size": 120},
         "encoding": {"x": {"datum": 0.9584, "type": "quantitative"}, "y": {"datum": 0.55, "type": "quantitative"}}},
        {"mark": {"type": "text", "text": "Sample points", "font": "Liberation Serif", "fontWeight": "bold", "fontSize": 18, "align": "right", "baseline": "middle", "color": "#000"},
         "encoding": {"x": {"datum": 0.996, "type": "quantitative"}, "y": {"datum": 0.24, "type": "quantitative"}}}
      ]
    }
  ]
}
